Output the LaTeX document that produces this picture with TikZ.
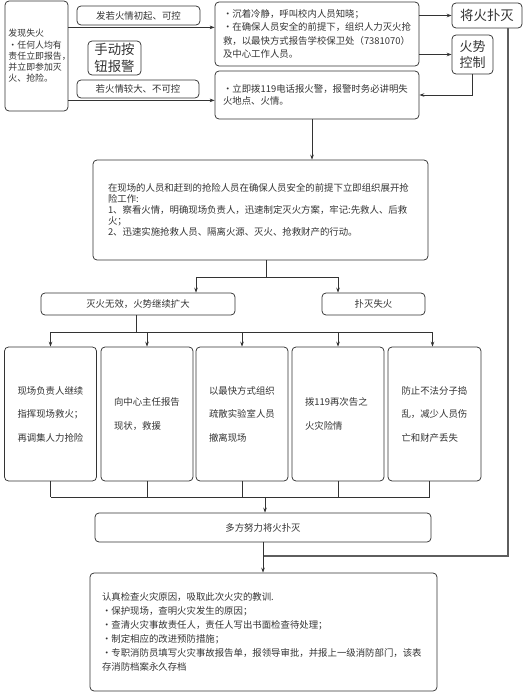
\documentclass[tikz,border=0pt]{standalone}
\usepackage{fontspec}
\setmainfont{Noto Sans CJK SC}
\usetikzlibrary{arrows,arrows.meta,calc,positioning}
\definecolor{ink}{HTML}{333333}
\definecolor{track}{HTML}{5E5E5E}

\begin{document}
\begin{tikzpicture}[>={Stealth[length=5pt,width=3.6pt]}, x=1pt, y=-1pt, line width=0.75pt, ink,
    box/.style={draw=ink, text=ink, rounded corners=4pt, inner sep=0pt, font=\fontsize{9.4}{11.2}\selectfont},
    tag/.style={box, align=center},
    big/.style={box, align=center, font=\fontsize{13.4}{16.7}\selectfont},
    item/.style={box, minimum width=92pt, minimum height=134pt, text width=66pt, align=left, font=\fontsize{9.4}{23.5}\selectfont},
    backline/.style={draw=track, line width=1.8pt}]

    \useasboundingbox (0,0) rectangle (523,698);

    % first reaction
    \node[box, minimum width=63pt, minimum height=110pt, text width=56pt, align=left, font=\fontsize{8.9}{11.3}\selectfont]
                                     (find)    at (36.5,56)    {发现失火\\・任何人均有\\责任立即报告，\\并立即参加灭\\火、抢险。};
    \node[tag, minimum width=123pt, minimum height=19pt]   (small)   at (138.5,15.5) {发若火情初起、可控};
    \node[big, minimum width=53pt, minimum height=34pt]    (alarm)   at (114.5,58)   {手动按\\钮报警};
    \node[tag, minimum width=122pt, minimum height=18pt]   (large)   at (138,89)     {若火情较大、不可控};

    \node[box, minimum width=204pt, minimum height=64pt, text width=188pt, align=left, font=\fontsize{9.4}{13.3}\selectfont]
                                     (calm)    at (317,34)     {・沉着冷静，呼叫校内人员知晓；\\・在确保人员安全的前提下，组织人力灭火抢\\救，以最快方式报告学校保卫处（7381070）\\及中心工作人员。};
    \node[box, minimum width=204pt, minimum height=48pt, text width=188pt, align=left, font=\fontsize{9.4}{12}\selectfont]
                                     (call)    at (317,95)     {・立即拨119电话报火警，报警时务必讲明失\\火地点、火情。};
    \node[big, minimum width=70pt, minimum height=25pt]    (put)     at (487,15.5)   {将火扑灭};
    \node[big, minimum width=41pt, minimum height=39pt, font=\fontsize{13}{16.5}\selectfont]
                                     (ctrl)    at (472.5,54.5) {火势\\控制};

    \path[->]   ([yshift=-2pt]small.south -| find.east)   edge   ([yshift=-2pt]small.south -| calm.west)
                ([yshift=-2pt]large.south -| find.east)   edge   ([yshift=-2pt]large.south -| calm.west)
                (calm.east |- put.west)                   edge   (put.west)
                (calm.east |- ctrl.west)                  edge   (ctrl.west);
    \draw[->] (ctrl.south) |- (call.east);

    % on site
    \node[box, minimum width=335pt, minimum height=100pt, text width=305pt, align=left]
                                     (rescue)  at (260.5,210)  {在现场的人员和赶到的抢险人员在确保人员安全的前提下立即组织展开抢\\险工作:\\1、察看火情，明确现场负责人，迅速制定灭火方案，牢记:先救人、后救\\火；\\2、迅速实施抢救人员、隔离火源、灭火、抢救财产的行动。};
    \draw[->] ([xshift=-5pt]call.south) -- ([xshift=-5pt]call.south |- rescue.north);

    \node[tag, minimum width=194pt, minimum height=22pt]   (fail)    at (138,304)    {灭火无效，火势继续扩大};
    \node[tag, minimum width=103pt, minimum height=22pt]   (out)     at (373.5,304)  {扑灭失火};

    \coordinate (split)  at (266,277);
    \coordinate (splitL) at (196,277);
    \coordinate (splitR) at (338,277);
    \draw (rescue.south -| split) -- (split);
    \draw (splitL) -- (splitR);
    \draw[->] (splitL) -- (splitL |- fail.north);
    \draw[->] (splitR) -- (splitR |- out.north);

    % five actions
    \node[item]                      (lead)    at (50.5,414)   {现场负责人继续\\指挥现场救火；\\再调集人力抢险};
    \node[item]                      (report)  at (147,414)    {向中心主任报告\\现状，救援};
    \node[item]                      (evac)    at (242,414)    {以最快方式组织\\疏散实验室人员\\撤离现场};
    \node[item]                      (recall)  at (338,414)    {拨119再次告之\\火灾险情};
    \node[item, minimum width=93pt]  (guard)   at (434.5,414)  {防止不法分子捣\\乱，减少人员伤\\亡和财产丢失};

    \coordinate (fork)  at (136,332);
    \coordinate (merge) at (265,497);
    \draw (fail.south -| fork) -- (fork);
    \draw (lead.north |- fork) -- ([xshift=-2pt]guard.north |- fork);
    \draw (lead.south |- merge) -- ([xshift=-5pt]guard.south |- merge);
    \foreach \act in {lead,report,evac,recall}
        \draw[->] (\act.north |- fork) -- (\act.north);
    \draw[->] ([xshift=-2pt]guard.north |- fork) -- ([xshift=-2pt]guard.north);
    \foreach \act in {lead,report,evac,recall}
        \draw (\act.south) -- (\act.south |- merge);
    \draw ([xshift=-5pt]guard.south) -- ([xshift=-5pt]guard.south |- merge);

    \node[tag, minimum width=336pt, minimum height=29pt]   (joint)   at (263,527.5)  {多方努力将火扑灭};
    \draw[->] (merge) -- (merge |- joint.north);

    % afterwards
    \node[box, minimum width=347pt, minimum height=118pt, text width=323pt, align=left, font=\fontsize{9.4}{14}\selectfont]
                                     (lessons) at (263.5,632)  {认真检查火灾原因，吸取此次火灾的教训.\\・保护现场，查明火灾发生的原因；\\・查清火灾事故责任人，责任人写出书面检查待处理；\\・制定相应的改进预防措施；\\・专职消防员填写火灾事故报告单，报领导审批，并报上一级消防部门，该表\\存消防档案永久存档};

    \coordinate (rtrack) at (508,556);
    \draw[backline] (put.south -| rtrack) -- (rtrack) -- (rtrack -| joint.south);
    \draw[->] (joint.south) -- (joint.south |- lessons.north);

\end{tikzpicture}
\end{document}
